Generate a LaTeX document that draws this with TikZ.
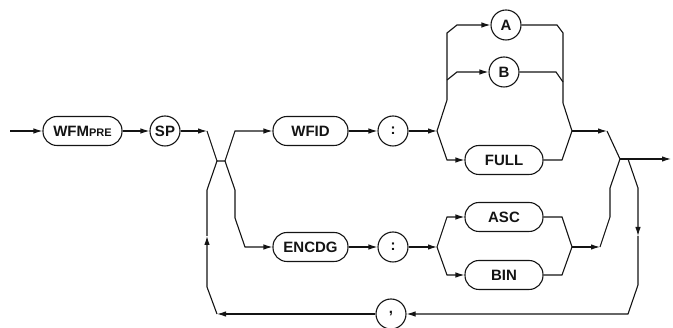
\documentclass[tikz,border=0pt]{standalone}
\usepackage{fontspec}
\setmainfont{Liberation Sans}
\usepackage{tikz}
\usetikzlibrary{arrows.meta}
\definecolor{ink}{RGB}{20,20,20}

\begin{document}
\begin{tikzpicture}[x=1pt,y=-1pt,line width=1.1pt,color=ink,
  kw/.style={draw,rounded corners=14pt,minimum height=29pt,minimum width=#1,inner sep=0pt,font=\fontsize{15}{18}\selectfont\bfseries},
  kw/.default=78pt,
  sym/.style={draw,circle,minimum size=30pt,inner sep=0pt,font=\fontsize{15}{18}\selectfont\bfseries},
  flow/.style={-{Latex[length=9pt,width=5.5pt]}}]
\useasboundingbox (0,0) rectangle (673,328);
\node[kw=79pt] (wfmpre) at (82.5,131) {WFM{\fontsize{11}{12}\selectfont PRE}};
\node[sym] (sp) at (165,131) {SP};
\node[kw=75pt] (wfid) at (310.5,131) {WFID};
\node[sym] (colon1) at (393,131) {:};
\node[kw=75pt] (encdg) at (310.5,247) {ENCDG};
\node[sym] (colon2) at (393,247) {:};
\node[sym] (a) at (506,25) {A};
\node[sym] (b) at (504,72) {B};
\node[kw] (full) at (504,160) {FULL};
\node[kw] (asc) at (504,217) {ASC};
\node[kw] (bin) at (504,275) {BIN};
\node[sym] (comma) at (391,314) {,};
\coordinate (entry) at (10,131);
\coordinate (spout) at (207,131);
\coordinate (jl) at (217,161);
\coordinate (jm) at (225,161);
\coordinate (s1) at (437,131);
\coordinate (s1b) at (447,80);
\coordinate (j1) at (572,131);
\coordinate (j1o) at (607,131);
\coordinate (jr) at (620,159);
\coordinate (jr2) at (628,159);
\coordinate (exit) at (671,159);
\coordinate (s2) at (437,247);
\coordinate (j2) at (572,247);
\coordinate (j2o) at (600,247);
\coordinate (loopup) at (207,236);
\coordinate (loopdn) at (638,236);
\coordinate (loopend) at (217,314);
\draw[flow] (entry) -- (wfmpre);
\draw[flow] (wfmpre) -- (sp);
\draw[flow] (sp) -- (spout);
\draw (spout) -- (jl) -- (jm);
\draw[flow] (jm) -- (235,131) -- (wfid);
\draw[flow] (jm) -- (235,190) -- (235,218) -- (245,247) -- (encdg);
\draw[flow] (wfid) -- (colon1);
\draw[flow] (colon1) -- (s1);
\draw[flow] (encdg) -- (colon2);
\draw[flow] (colon2) -- (s2);
\draw[flow] (s1) -- (447,100) -- (447,33) -- (457,25) -- (a);
\draw[flow] (s1b) -- (457,72) -- (b);
\draw[flow] (s1) -- (447,160) -- (full);
\draw[flow] (s2) -- (447,217) -- (asc);
\draw[flow] (s2) -- (447,275) -- (bin);
\draw (a) -- (557,25) -- (563,33) -- (563,103) -- (j1);
\draw (b) -- (556,72) -- (563,82);
\draw (full) -- (562,160) -- (j1);
\draw (asc) -- (562,217) -- (j2);
\draw (bin) -- (562,275) -- (j2);
\draw[flow] (j1) -- (j1o);
\draw (j1o) -- (jr);
\draw[flow] (j2) -- (j2o);
\draw (j2o) -- (610,217) -- (610,188) -- (jr);
\draw[flow] (jr) -- (exit);
\draw[flow] (jr2) -- (638,188) -- (loopdn);
\draw[flow] (loopdn) -- (638,285) -- (628,314) -- (comma);
\draw[flow] (comma) -- (loopend);
\draw[flow] (loopend) -- (207,287) -- (loopup);
\draw (loopup) -- (207,190) -- (jl);
\end{tikzpicture}
\end{document}
